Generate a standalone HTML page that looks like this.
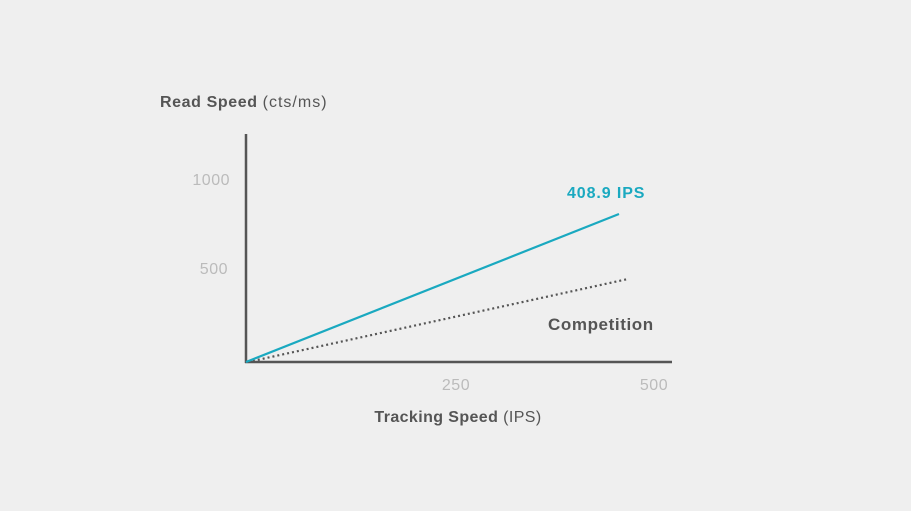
<!DOCTYPE html>
<html><head><style>
body{margin:0;background:#efefef;}
svg{display:block;font-family:"Liberation Sans",sans-serif;}
</style></head><body>
<svg width="911" height="511" viewBox="0 0 911 511">
<rect width="911" height="511" fill="#efefef"/>
<text x="160" y="107" font-size="16" fill="#555" font-weight="bold" letter-spacing="0.6">Read Speed <tspan font-weight="normal" letter-spacing="1">(cts/ms)</tspan></text>
<text x="230" y="185" font-size="16" fill="#bbb" text-anchor="end" letter-spacing="0.5">1000</text>
<text x="228" y="274" font-size="16" fill="#bbb" text-anchor="end" letter-spacing="0.5">500</text>
<line x1="246" y1="134" x2="246" y2="363" stroke="#555" stroke-width="2.5"/>
<line x1="245" y1="362" x2="672" y2="362" stroke="#555" stroke-width="2.5"/>
<line x1="248" y1="362" x2="628" y2="279" stroke="#555" stroke-width="2.2" stroke-dasharray="2 3"/>
<line x1="246" y1="362" x2="619" y2="214" stroke="#1aa9c0" stroke-width="2.2"/>
<text x="567" y="198" font-size="16" fill="#1aa9c0" font-weight="bold" letter-spacing="0.9">408.9 IPS</text>
<text x="548" y="330" font-size="17" fill="#555" font-weight="bold" letter-spacing="0.6">Competition</text>
<text x="456" y="390" font-size="16" fill="#bbb" text-anchor="middle" letter-spacing="0.5">250</text>
<text x="654" y="390" font-size="16" fill="#bbb" text-anchor="middle" letter-spacing="0.5">500</text>
<text x="458" y="422" font-size="16" fill="#555" font-weight="bold" text-anchor="middle" letter-spacing="0.4">Tracking Speed <tspan font-weight="normal">(IPS)</tspan></text>
</svg>
</body></html>
